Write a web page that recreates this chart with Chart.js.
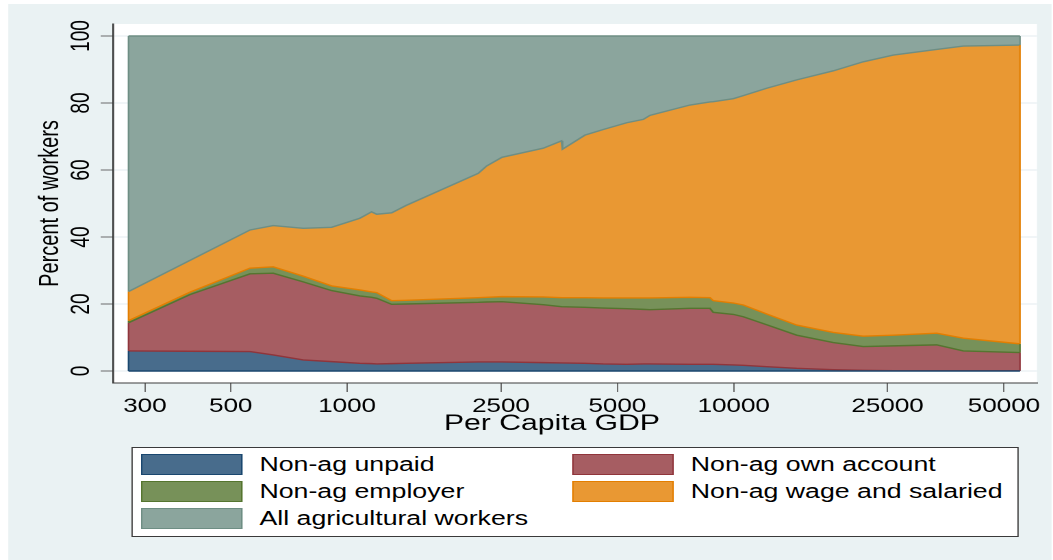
<!DOCTYPE html>
<html><head><meta charset="utf-8">
<script src="https://cdn.jsdelivr.net/npm/chart.js@4.4.1/dist/chart.umd.min.js"></script>
<style>
html,body{margin:0;padding:0;background:#fff;overflow:hidden;}
#stage{position:absolute;left:0;top:0;width:769px;height:560px;transform-origin:0 0;transform:scaleX(1.36931);}
#bg{position:absolute;left:5.8px;top:4px;width:762.5px;height:556px;background:#eaf2f3;}
#c{position:absolute;left:0;top:0;}
#legend{position:absolute;left:95.7px;top:446.7px;width:648.5px;height:90.6px;box-sizing:border-box;border:1px solid #3a3a3a;background:#fff;font-family:'Liberation Sans',Arial,sans-serif;font-size:19.5px;color:#000;}
.item{position:absolute;height:21px;line-height:21px;white-space:nowrap;}
.sw{position:absolute;left:0;top:0;width:74px;height:21px;box-sizing:border-box;border:1.5px solid;}
.lab{position:absolute;left:86px;top:0;}
</style></head>
<body>
<div id="stage"><div id="bg"></div><canvas id="c" width="769" height="560"></canvas><div id="legend"></div></div>
<script>
// Per capita GDP (x) and percent of workers in each category
const gdp = [272, 392, 561, 644, 770, 912, 1079, 1157, 1193, 1304, 1420, 2184, 2296, 2515, 3216, 3585, 3606, 4122, 4599, 5286, 5835, 6074, 7707, 8681, 8852, 9973, 10588, 12168, 14553, 18093, 21633, 25870, 33484, 39247, 55010];
const unpaid = [6.0,5.9,5.8,4.8,3.3,2.8,2.3,2.2,2.1,2.2,2.3,2.7,2.7,2.7,2.5,2.4,2.4,2.3,2.1,2.0,2.1,2.1,2.0,2.0,2.0,1.8,1.7,1.3,0.8,0.4,0.2,0.1,0.1,0.1,0.1];
const ownAccount = [8.4,16.9,23.2,24.4,23.3,21.2,20.1,19.8,19.6,17.7,17.7,17.8,17.9,18.0,17.3,16.8,16.8,16.7,16.7,16.6,16.3,16.2,16.7,16.7,15.5,15.1,14.5,12.5,9.9,8.1,7.1,7.4,7.7,5.9,5.4];
const employer = [0.6,0.7,1.7,1.9,1.7,1.4,1.8,1.6,1.7,1.1,1.1,1.4,1.4,1.5,2.3,2.7,2.7,2.9,3.0,3.2,3.4,3.5,3.3,3.2,3.5,3.4,3.5,3.2,3.0,3.0,3.1,3.2,3.5,3.8,2.6];
const wage = [8.7,9.5,11.4,12.3,14.3,17.5,21.4,23.9,23.4,26.2,28.3,37.1,39.2,41.6,44.4,46.8,44.3,48.5,50.3,52.3,53.3,54.5,57.4,58.4,59.4,61.0,62.5,67.4,73.2,78.1,81.9,83.6,84.7,87.2,89.2];
const agri = [76.3,67.0,57.9,56.6,57.4,57.1,54.4,52.5,53.2,52.8,50.6,41.0,38.8,36.2,33.5,31.3,33.8,29.6,27.9,25.9,24.9,23.7,20.6,19.7,19.6,18.7,17.8,15.6,13.1,10.4,7.7,5.7,4.0,3.0,2.7];
const seriesNames = ['Non-ag unpaid','Non-ag own account','Non-ag employer','Non-ag wage and salaried','All agricultural workers'];
const xTicks = [300, 500, 1000, 2500, 5000, 10000, 25000, 50000];
const yTicks = [0, 20, 40, 60, 80, 100];
const xTitleText = 'Per Capita GDP';
const yTitleText = 'Percent of workers';

const series = [unpaid, ownAccount, employer, wage, agri];
const fills = ['rgb(72,108,140)','rgb(166,93,98)','rgb(119,145,89)','rgb(233,152,51)','rgb(139,165,157)'];
const lines = ['#1a476f','#90353b','#55752f','#e37e00','#6e8e84'];
const family = "'Liberation Sans', Arial, sans-serif";

// legend (HTML)
const leg = document.getElementById('legend');
seriesNames.forEach((n,k)=>{
  const it = document.createElement('div');
  it.className='item';
  it.style.left = (k%2===0 ? 6.8 : 321.8) + 'px';
  it.style.top = (6.6 + Math.floor(k/2)*27) + 'px';
  const sw = document.createElement('div');
  sw.className='sw'; sw.style.background=fills[k]; sw.style.borderColor=lines[k];
  const lb = document.createElement('div');
  lb.className='lab'; lb.textContent=n;
  it.appendChild(sw); it.appendChild(lb); leg.appendChild(it);
});

const plotBg = {
  id:'plotBg',
  beforeDraw(chart){
    const {ctx, chartArea:a} = chart;
    ctx.save(); ctx.fillStyle='#fff';
    ctx.fillRect(a.left, a.top, a.right-a.left, a.bottom-a.top);
    ctx.restore();
  }
};
const edges = {
  id:'edges',
  afterDatasetsDraw(chart){
    const c = chart.ctx;
    const y0 = chart.scales.y.getPixelForValue(0);
    const metas = series.map((s,i)=>chart.getDatasetMeta(i));
    c.save();
    c.lineWidth = 1.1;
    [0, gdp.length-1].forEach(j=>{
      let prev = y0;
      metas.forEach((m,i)=>{
        const p = m.data[j];
        c.strokeStyle = lines[i];
        c.beginPath(); c.moveTo(p.x, prev); c.lineTo(p.x, p.y); c.stroke();
        prev = p.y;
      });
    });
    const f = metas[0].data[0], l = metas[0].data[gdp.length-1];
    c.lineWidth = 1.4;
    c.strokeStyle = lines[0];
    c.beginPath(); c.moveTo(f.x, y0); c.lineTo(l.x, y0); c.stroke();
    c.restore();
  }
};
const xTitle = {
  id:'xTitle',
  afterDraw(chart){
    const c = chart.ctx, a = chart.chartArea;
    c.save();
    c.fillStyle = '#000';
    c.font = '22px ' + family;
    c.textAlign = 'center';
    c.textBaseline = 'middle';
    c.fillText(xTitleText, (a.left + a.right) / 2 - 16.8, a.bottom + 41);
    c.restore();
  }
};

new Chart(document.getElementById('c'), {
  type:'line',
  data:{
    datasets: series.map((s,i)=>({
      label: seriesNames[i],
      data: gdp.map((g,j)=>({x:g, y:s[j]})),
      backgroundColor: fills[i],
      borderColor: lines[Math.min(i+1,4)],
      borderWidth: 1.4,
      fill: i===0 ? 'origin' : '-1',
      pointRadius: 0,
      tension: 0
    }))
  },
  options:{
    responsive:false, animation:false, devicePixelRatio:2,
    layout:{padding:{left:0, right:11.7, top:24, bottom:117}},
    plugins:{legend:{display:false}, tooltip:{enabled:false}},
    scales:{
      x:{
        type:'logarithmic', min:248, max:60870,
        afterBuildTicks: s=>{ s.ticks = xTicks.map(v=>({value:v})); },
        afterFit: s=>{ s.height = 60; },
        ticks:{autoSkip:false, minRotation:0, maxRotation:0, padding:3.3, color:'#000', font:{family, size:19}, callback:v=>String(v)},
        grid:{drawOnChartArea:false, drawTicks:true, tickLength:9, tickColor:'#6b6b6b', tickWidth:1},
        border:{display:true, color:'#3c3c3c', width:1},
        title:{display:false}
      },
      y:{
        type:'linear', stacked:true, min:-3.58, max:103.58,
        afterBuildTicks: s=>{ s.ticks = yTicks.map(v=>({value:v})); },
        afterFit: s=>{ s.width = 82.5; },
        ticks:{minRotation:90, maxRotation:90, crossAlign:'center', padding:-2.3, color:'#000', font:{family, size:19}, callback:v=>String(v)},
        grid:{color:'#e3ecf0', lineWidth:1, drawTicks:true, tickLength:9, tickColor:'#6b6b6b', tickWidth:1},
        border:{display:true, color:'#3c3c3c', width:1.3},
        title:{display:true, text:yTitleText, color:'#000', font:{family, size:20}, padding:{top:25, bottom:0}}
      }
    }
  },
  plugins:[plotBg, edges, xTitle]
});
</script>
</body></html>
